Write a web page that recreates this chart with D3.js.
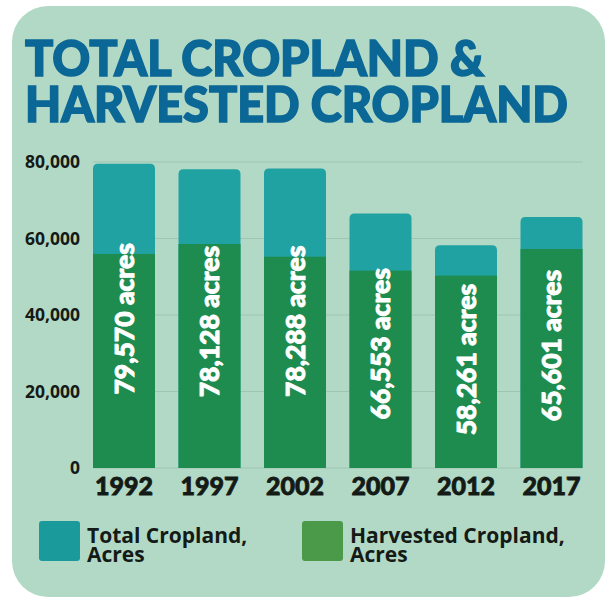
<!DOCTYPE html>
<html>
<head>
<meta charset="utf-8">
<script src="https://cdn.jsdelivr.net/npm/d3@7"></script>
<style>
  html, body { margin: 0; padding: 0; background: #ffffff; }
  #wrap { position: relative; width: 607px; height: 598px; }
  svg { display: block; position: absolute; left: 0; top: 0; }
  .block { position: absolute; white-space: nowrap; }
  .block span { display: block; transform-origin: 0 0; width: max-content; }
</style>
</head>
<body>
<div id="wrap">
<svg id="chart" width="607" height="598"></svg>
</div>
<script>
// Census years and cropland acreage
const years = ["1992", "1997", "2002", "2007", "2012", "2017"];
const totalAcres = [79570, 78128, 78288, 66553, 58261, 65601];
const harvestedAcres = [55950, 58550, 55250, 51600, 50300, 57250];
const yTicks = [0, 20000, 40000, 60000, 80000];
const titleLines = ["TOTAL CROPLAND &", "HARVESTED CROPLAND"];
const legendItems = [
  { lines: ["Total Cropland,", "Acres"], color: "#1b9a9c" },
  { lines: ["Harvested Cropland,", "Acres"], color: "#4a9a4a" }
];

const colors = {
  card: "#b2d9c5",
  title: "#0b6796",
  total: "#20a2a2",
  harvested: "#1f8c4f",
  grid: "#9dc5b1",
  text: "#141a16"
};

const wrap = d3.select("#wrap");
const svg = d3.select("#chart");

// Card background with rounded corners
svg.append("rect")
  .attr("x", 12).attr("y", 6)
  .attr("width", 593).attr("height", 591)
  .attr("rx", 36).attr("ry", 36)
  .attr("fill", colors.card);

// Title: two tight lines, each stretched to its width
const titleWidths = [459, 543];
const title = wrap.append("div")
  .attr("class", "block")
  .style("left", "25px")
  .style("top", "33.6px")
  .style("font-family", "Lato, sans-serif")
  .style("font-weight", 900)
  .style("font-size", "50px")
  .style("line-height", "46px")
  .style("color", colors.title)
  .style("-webkit-text-stroke", `1.6px ${colors.title}`);
title.selectAll("span")
  .data(titleLines)
  .join("span")
  .text(d => d)
  .each(function (d, i) {
    const w = this.getBoundingClientRect().width;
    d3.select(this).style("transform", `scaleX(${titleWidths[i] / w})`);
  });

// Scales
const x = d3.scaleBand()
  .domain(years)
  .range([93, 582.5])
  .paddingInner(0.275)
  .paddingOuter(0);

const y = d3.scaleLinear()
  .domain([0, 80000])
  .range([468, 162]);

// Gridlines
svg.append("g").selectAll("line")
  .data(yTicks)
  .join("line")
  .attr("x1", x.range()[0])
  .attr("x2", x.range()[1])
  .attr("y1", d => y(d))
  .attr("y2", d => y(d))
  .attr("stroke", colors.grid)
  .attr("stroke-width", 1);

// Y axis labels
const yAxis = svg.append("g")
  .attr("transform", "translate(80,0)")
  .call(d3.axisLeft(y).tickValues(yTicks).tickFormat(d3.format(",")).tickSize(0).tickPadding(0));
yAxis.select(".domain").remove();
yAxis.selectAll("text")
  .attr("font-family", "'Open Sans', sans-serif")
  .attr("font-weight", 700)
  .attr("font-size", 17.5)
  .attr("fill", colors.text);

// Bar shape with rounded top corners
function topRounded(x0, y0, w, h, r) {
  r = Math.min(r, h, w / 2);
  return `M${x0},${y0 + h}V${y0 + r}Q${x0},${y0} ${x0 + r},${y0}` +
         `H${x0 + w - r}Q${x0 + w},${y0} ${x0 + w},${y0 + r}V${y0 + h}Z`;
}

const rows = years.map((yr, i) => ({ year: yr, total: totalAcres[i], harvested: harvestedAcres[i] }));

const bars = svg.append("g").selectAll("g")
  .data(rows)
  .join("g");

bars.append("path")
  .attr("d", d => topRounded(x(d.year), y(d.total), x.bandwidth(), y(0) - y(d.total), 5))
  .attr("fill", colors.total);

bars.append("rect")
  .attr("x", d => x(d.year))
  .attr("y", d => y(d.harvested))
  .attr("width", x.bandwidth())
  .attr("height", d => y(0) - y(d.harvested))
  .attr("fill", colors.harvested);

// Value labels, rotated, centered in each total bar
const fmt = d3.format(",");
bars.append("text")
  .attr("transform", d => {
    const cx = x(d.year) + x.bandwidth() / 2;
    const cy = (y(d.total) + y(0)) / 2 + 3;
    return `translate(${cx},${cy}) rotate(-90)`;
  })
  .attr("text-anchor", "middle")
  .attr("dy", "0.36em")
  .attr("font-family", "Lato, sans-serif")
  .attr("font-weight", 900)
  .attr("font-size", 26.5)
  .attr("fill", "#ffffff")
  .attr("stroke", "#ffffff")
  .attr("stroke-width", 0.9)
  .text(d => `${fmt(d.total)} acres`);

// Year labels
svg.append("g").selectAll("text")
  .data(years)
  .join("text")
  .attr("x", d => x(d) + x.bandwidth() / 2)
  .attr("y", 495)
  .attr("text-anchor", "middle")
  .attr("font-family", "Lato, sans-serif")
  .attr("font-weight", 900)
  .attr("font-size", 25)
  .attr("fill", colors.text)
  .attr("stroke", colors.text)
  .attr("stroke-width", 0.8)
  .text(d => d);

// Legend swatches
const legendX = [39, 302];
svg.append("g").selectAll("rect")
  .data(legendItems)
  .join("rect")
  .attr("x", (d, i) => legendX[i])
  .attr("y", 521)
  .attr("width", 41).attr("height", 40)
  .attr("rx", 3)
  .attr("fill", d => d.color);

// Legend labels, two tight lines each
wrap.selectAll("div.legend")
  .data(legendItems)
  .join("div")
  .attr("class", "block legend")
  .style("left", (d, i) => `${legendX[i] + 48}px`)
  .style("top", "525.5px")
  .style("font-family", "'Open Sans', sans-serif")
  .style("font-weight", 700)
  .style("font-size", "21px")
  .style("line-height", "19px")
  .style("color", colors.text)
  .selectAll("span")
  .data(d => d.lines)
  .join("span")
  .text(d => d);
</script>
</body>
</html>
